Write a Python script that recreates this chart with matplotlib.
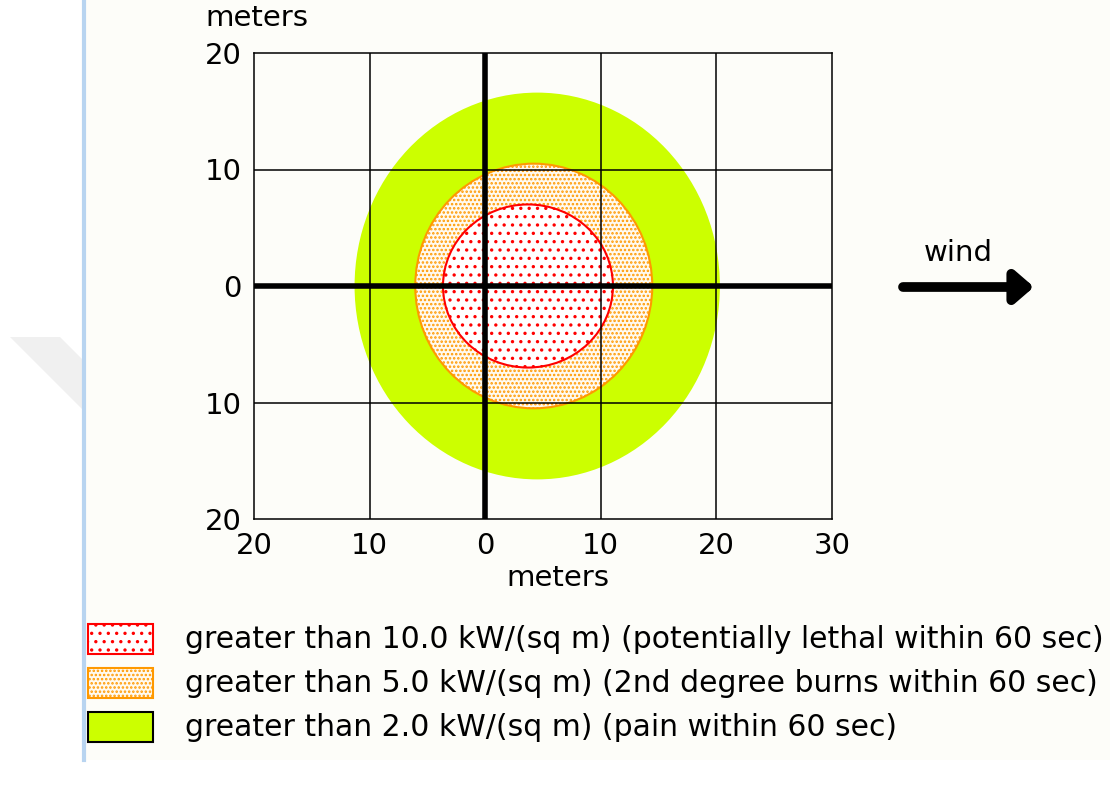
import matplotlib
matplotlib.use("Agg")
import matplotlib.pyplot as plt
from matplotlib.patches import Ellipse, Rectangle, Polygon

plt.rcParams["font.family"] = ["DejaVu Sans"]
plt.rcParams["hatch.linewidth"] = 1.2

# ── Threat zones (meters) ─────────────────────────────────────────────
zone_labels = [
    "greater than 2.0 kW/(sq m) (pain within 60 sec)",
    "greater than 5.0 kW/(sq m) (2nd degree burns within 60 sec)",
    "greater than 10.0 kW/(sq m) (potentially lethal within 60 sec)",
]
zone_center_x = [4.5, 4.2, 3.7]      # downwind offset of each zone
zone_half_x = [15.8, 10.25, 7.35]    # half extent along wind
zone_half_y = [16.6, 10.5, 7.0]      # half extent crosswind
zone_face = ["#ccff00", "#fffaf0", "#ffffff"]
zone_edge = ["#000000", "#ff9900", "#ff0000"]
zone_hatch = [None, "....", ".."]
zone_edge_in_plot = ["none", "#ff9900", "#ff0000"]

x_ticks = [-20, -10, 0, 10, 20, 30]
y_ticks = [-20, -10, 0, 10, 20]

BG = "#fdfdf9"
fig = plt.figure(figsize=(11.1, 7.87), dpi=100)
fig.patch.set_facecolor(BG)

W, H = 1110, 787
def fx(px):
    return px / W
def fy(py):
    return 1 - py / H

# white strip, blue page edge and faint watermark on the left
fig.add_artist(Rectangle((0, 0), fx(83), 1, transform=fig.transFigure,
                         facecolor="white", edgecolor="none"))
fig.add_artist(Rectangle((0, 0), 1, fy(760), transform=fig.transFigure,
                         facecolor="white", edgecolor="none"))
fig.add_artist(Polygon([(fx(10), fy(337)), (fx(60), fy(337)), (fx(83), fy(360)),
                        (fx(83), fy(410))], closed=True, transform=fig.transFigure,
                       facecolor="#f0f0f0", edgecolor="none"))
fig.add_artist(plt.Line2D([fx(84), fx(84)], [fy(0), fy(760)], transform=fig.transFigure,
                          color="#b8d4f0", lw=3))

ax = fig.add_axes([fx(254), fy(519), fx(832) - fx(254), fy(53) - fy(519)])
ax.set_facecolor(BG)
ax.set_xlim(x_ticks[0], x_ticks[-1])
ax.set_ylim(y_ticks[0], y_ticks[-1])

for i in range(len(zone_labels)):
    ax.add_patch(Ellipse((zone_center_x[i], 0), 2 * zone_half_x[i], 2 * zone_half_y[i],
                         facecolor=zone_face[i], edgecolor=zone_edge_in_plot[i],
                         hatch=zone_hatch[i], lw=1.5, zorder=1))

# grid and the two heavy axes
for x in x_ticks[1:-1]:
    ax.axvline(x, color="black", lw=4 if x == 0 else 1.1, zorder=3)
for y in y_ticks[1:-1]:
    ax.axhline(y, color="black", lw=4 if y == 0 else 1.1, zorder=3)

ax.set_xticks(x_ticks)
ax.set_yticks(y_ticks)
ax.set_xticklabels([str(abs(v)) for v in x_ticks])
ax.set_yticklabels([str(abs(v)) for v in y_ticks])
ax.tick_params(length=0, labelsize=21)
ax.tick_params(axis="x", pad=9)
ax.tick_params(axis="y", pad=9)
for s in ax.spines.values():
    s.set_linewidth(1.1)
    s.set_color("black")

fig.text(fx(205), fy(18), "meters", fontsize=21, va="center", ha="left")
fig.text(fx(558), fy(578), "meters", fontsize=21, va="center", ha="center")

# wind arrow
fig.text(fx(958), fy(253), "wind", fontsize=21, va="center", ha="center")
ax.annotate("", xy=(fx(1034), fy(287)), xytext=(fx(903), fy(287)),
            xycoords="figure fraction", textcoords="figure fraction",
            arrowprops=dict(arrowstyle="-|>,head_length=1.1,head_width=0.95",
                            lw=7, color="black", capstyle="round",
                            joinstyle="round", shrinkA=0, shrinkB=0))

# legend, lethal zone first
legend_y = [639, 683, 727]
for row, i in enumerate(reversed(range(len(zone_labels)))):
    cy = legend_y[row]
    fig.add_artist(Rectangle((fx(88), fy(cy + 15)), fx(153) - fx(88), fy(cy - 15) - fy(cy + 15),
                             transform=fig.transFigure, facecolor=zone_face[i],
                             edgecolor=zone_edge[i], hatch=zone_hatch[i], lw=1.5))
    fig.text(fx(185), fy(cy), zone_labels[i], fontsize=21.5, va="center", ha="left")

fig.savefig("out.png", dpi=100, facecolor=BG)
